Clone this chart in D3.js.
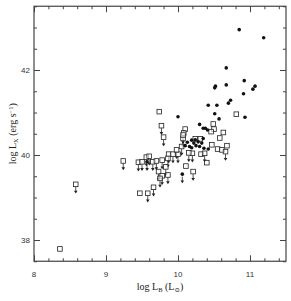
<!DOCTYPE html>
<html><head><meta charset="utf-8">
<script src="https://cdn.jsdelivr.net/npm/d3@7"></script>
<style>body{margin:0;background:#fff}svg{display:block}</style>
</head><body>
<script>
// log L_B, log L_X
const filledCircles = [
 [10.85,42.95],[11.19,42.76],[10.67,42.05],[10.92,41.75],[11.07,41.62],[11.04,41.55],
 [10.67,41.65],[10.52,41.62],[10.51,41.58],[10.91,41.44],[10.73,41.29],[10.70,41.22],
 [10.42,41.17],[10.54,41.17],[10.51,40.97],[10.57,40.85],[10.93,40.89],[10.00,40.90],
 [10.30,40.72],[10.38,40.63],[10.41,40.59],[10.35,40.63],[10.35,40.39],[10.33,40.28],
 [10.36,40.16],[10.28,40.31],[10.19,40.35],[10.16,40.20],[10.22,40.28],[10.19,40.17],
 [10.25,40.22],[10.13,40.30],[10.30,40.20],[10.24,40.36],[10.10,40.22],[10.42,40.14]
];
const circleLimits = [[10.06,39.55],[9.57,39.84]];
const openSquares = [
 [9.74,41.02],[10.81,40.96],[10.49,40.73],[10.50,40.61],[10.46,40.55],[10.63,40.53],
 [10.58,40.40],[10.68,40.22],[10.55,40.14],[10.10,40.61],[8.36,37.79],[9.47,39.10],
 [10.11,39.74],[10.40,39.82],[10.61,40.12],[10.32,40.02],[10.24,40.38],[10.31,40.38],
 [10.08,40.52],[10.47,40.24]
];
const squareLimits = [
 [8.58,39.31],[9.24,39.86],[9.45,39.83],[9.56,39.95],[9.50,39.84],[9.65,39.84],
 [9.78,39.88],[9.87,40.02],[9.93,40.02],[9.86,39.92],[10.00,40.02],[9.73,39.61],
 [9.78,39.51],[9.86,39.53],[9.75,39.45],[9.66,39.24],[9.58,39.10],[10.21,39.61],
 [10.20,40.04],[10.37,40.04],[10.66,40.08],[9.77,40.69],[9.80,40.42],[10.07,40.39],
 [9.98,40.12],[10.07,40.47],[10.05,40.20],[10.15,40.05],[9.83,39.72],[9.70,39.86],
 [9.60,39.97]
];
const xMajorTicks = [8,9,10,11];
const yMajorTicks = [38,40,42];
const xDomain = [8,11.5];
const yDomain = [37.5,43.5];

const W=291,H=301;
const svg=d3.select("body").append("svg").attr("width",W).attr("height",H);
const x=d3.scaleLinear().domain(xDomain).range([34,286]);
const y=d3.scaleLinear().domain(yDomain).range([261.25,6.25]);
const frameColor="#444";
const L=x.range()[0],R=x.range()[1],T=y.range()[1],B=y.range()[0];

const xMinor=d3.range(80,116,2).map(d=>d/10).filter(d=>!xMajorTicks.includes(d));
const yMinor=d3.range(75,88,1).map(d=>d/2).filter(d=>!yMajorTicks.includes(d));

function styleAxis(g){g.select(".domain").remove();g.selectAll("line").attr("stroke",frameColor);g.selectAll("text").remove();}
// bottom / top
svg.append("g").attr("transform",`translate(0,${B})`).call(d3.axisBottom(x).tickValues(xMinor).tickSize(-3)).call(styleAxis);
svg.append("g").attr("transform",`translate(0,${B})`).call(d3.axisBottom(x).tickValues(xMajorTicks).tickSize(-6)).call(styleAxis);
svg.append("g").attr("transform",`translate(0,${T})`).call(d3.axisTop(x).tickValues(xMinor).tickSize(-3)).call(styleAxis);
svg.append("g").attr("transform",`translate(0,${T})`).call(d3.axisTop(x).tickValues(xMajorTicks).tickSize(-6)).call(styleAxis);
svg.append("g").attr("transform",`translate(${L},0)`).call(d3.axisLeft(y).tickValues(yMinor).tickSize(-3)).call(styleAxis);
svg.append("g").attr("transform",`translate(${L},0)`).call(d3.axisLeft(y).tickValues(yMajorTicks).tickSize(-6)).call(styleAxis);
svg.append("g").attr("transform",`translate(${R},0)`).call(d3.axisRight(y).tickValues(yMinor).tickSize(-3)).call(styleAxis);
svg.append("g").attr("transform",`translate(${R},0)`).call(d3.axisRight(y).tickValues(yMajorTicks).tickSize(-6)).call(styleAxis);

svg.append("rect").attr("x",L).attr("y",T).attr("width",R-L).attr("height",B-T)
 .attr("fill","none").attr("stroke",frameColor).attr("stroke-width",1.2);

const tickFont="'Liberation Sans',Arial,sans-serif";
svg.append("g").selectAll("text").data(xMajorTicks).join("text")
 .attr("x",d=>x(d)).attr("y",B+16).attr("text-anchor","middle")
 .attr("font-family",tickFont).attr("font-size",8).attr("fill","#333").text(d=>d);
svg.append("g").selectAll("text").data(yMajorTicks).join("text")
 .attr("x",L-4).attr("y",d=>y(d)+3).attr("text-anchor","end")
 .attr("font-family",tickFont).attr("font-size",8).attr("fill","#333").text(d=>d);

const serif="'Liberation Serif','DejaVu Serif',serif";
const xt=svg.append("text").attr("x",(L+R)/2).attr("y",290).attr("text-anchor","middle")
 .attr("font-family",serif).attr("font-size",10).attr("fill","#222");
xt.append("tspan").text("log L");
xt.append("tspan").attr("font-size",6.5).attr("dy",2).text("B");
xt.append("tspan").attr("dy",-2).text(" (L");
xt.append("tspan").attr("font-size",6.5).attr("dy",2).text("⊙");
xt.append("tspan").attr("dy",-2).text(")");

const yt=svg.append("text").attr("transform",`translate(16,${(T+B)/2}) rotate(-90)`).attr("text-anchor","middle")
 .attr("font-family",serif).attr("font-size",10).attr("fill","#222");
yt.append("tspan").text("log L");
yt.append("tspan").attr("font-size",6.5).attr("dy",2).text("X");
yt.append("tspan").attr("dy",-2).text(" (erg s");
yt.append("tspan").attr("font-size",6.5).attr("dy",-3).text("−1");
yt.append("tspan").attr("dy",3).text(")");

const plot=svg.append("g");
function arrow(g,d){
 const cx=x(d[0]),cy=y(d[1]);
 g.append("line").attr("x1",cx).attr("x2",cx).attr("y1",cy+2.5).attr("y2",cy+8).attr("stroke","#222").attr("stroke-width",0.8);
 g.append("path").attr("d",`M${cx-1.8},${cy+6.3}L${cx+1.8},${cy+6.3}L${cx},${cy+9.2}Z`).attr("fill","#222");
}
const s=4.6;
squareLimits.forEach(d=>arrow(plot,d));
circleLimits.forEach(d=>arrow(plot,d));
plot.selectAll("rect.sq").data(openSquares.concat(squareLimits)).join("rect").attr("class","sq")
 .attr("x",d=>x(d[0])-s/2).attr("y",d=>y(d[1])-s/2).attr("width",s).attr("height",s)
 .attr("fill","#fff").attr("fill-opacity",0.6).attr("stroke","#222").attr("stroke-width",0.8);
plot.selectAll("circle").data(filledCircles.concat(circleLimits)).join("circle")
 .attr("cx",d=>x(d[0])).attr("cy",d=>y(d[1])).attr("r",1.8).attr("fill","#111");
</script>
</body></html>
